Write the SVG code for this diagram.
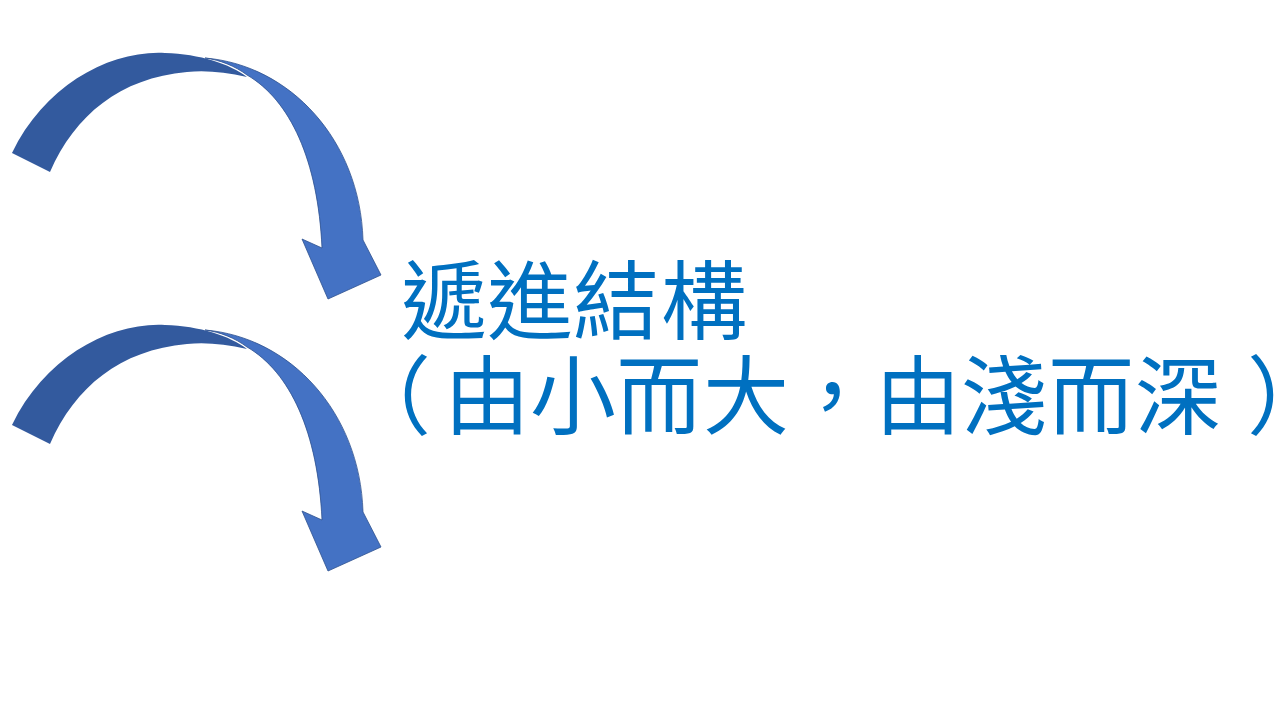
<svg xmlns="http://www.w3.org/2000/svg" width="1280" height="720" viewBox="0 0 1280 720">
<style>
.back{fill:#335A9E;}
.front{fill:#4472C4;stroke:#2F528F;stroke-width:0.8;stroke-linejoin:round;}
.t{font-family:"Noto Sans CJK TC","Noto Sans CJK SC",sans-serif;font-size:86px;fill:#0070C0;text-anchor:middle;}
</style>
<defs>
<g id="curvedArrow">
<path class="front" d="M205,58 C290,65 360,140 363,240 L381,275 L328,299 L302,239 L322,248 C318,160 290,100 247,75 C235,66 220,60 205,58 Z"/>
<path class="back" d="M12,153 C45,85 110,50 165,53 C200,54 230,64 247,77 C225,72 205,70 187,72 C120,78 75,115 50,172 Z"/>
</g>
</defs>
<rect width="1280" height="720" fill="#FFFFFF"/>
<g id="connectors">
<use id="arrow1" href="#curvedArrow"/>
<use id="arrow2" href="#curvedArrow" transform="translate(0,272)"/>
</g>
<g id="label">
<text class="t" x="444 530 616 704" y="333">遞進結構</text>
<text class="t" x="388 487 573 659 746 832 918 1004 1091 1178 1290" y="428">（由小而大，由淺而深）</text>
</g>
</svg>
